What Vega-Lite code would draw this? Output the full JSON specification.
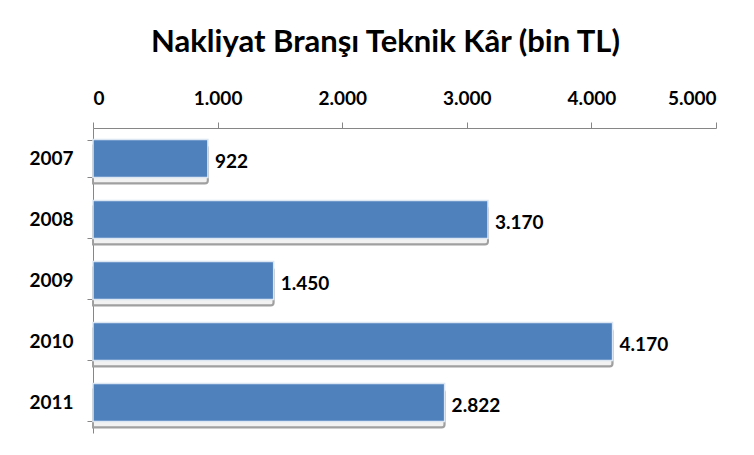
{
  "$schema": "https://vega.github.io/schema/vega-lite/v6.json",
  "autosize": {"type": "none"},
  "width": 623,
  "height": 305,
  "padding": {"left": 93, "top": 128, "right": 38, "bottom": 22},
  "background": "white",
  "config": {
    "locale": {"number": {"decimal": ",", "thousands": ".", "grouping": [3], "currency": ["", ""]}},
    "view": {"stroke": null},
    "font": "Lato"
  },
  "title": {
    "text": "Nakliyat Branşı Teknik Kâr (bin TL)",
    "font": "Lato",
    "fontSize": 31,
    "fontWeight": "bold",
    "color": "#000000",
    "anchor": "middle",
    "frame": "group",
    "dx": -19,
    "offset": 30
  },
  "data": {
    "values": [
      {"year": "2007", "value": 922},
      {"year": "2008", "value": 3170},
      {"year": "2009", "value": 1450},
      {"year": "2010", "value": 4170},
      {"year": "2011", "value": 2822}
    ]
  },
  "encoding": {
    "y": {
      "field": "year",
      "type": "nominal",
      "sort": null,
      "scale": {"paddingInner": 0.38, "paddingOuter": 0.19},
      "axis": {
        "title": null,
        "domainColor": "#868686",
        "tickColor": "#868686",
        "tickSize": 6,
        "tickBand": "extent",
        "labelPadding": 14,
        "labelFont": "Lato",
        "labelFontSize": 19,
        "labelFontWeight": "bold",
        "labelColor": "#000000"
      }
    }
  },
  "layer": [
    {
      "mark": {"type": "bar", "fill": "#f2f2f2", "stroke": "#a0a0a0", "strokeWidth": 2, "yOffset": 6, "x2Offset": 6, "cornerRadiusEnd": 3},
      "encoding": {
        "x": {
          "field": "value",
          "type": "quantitative",
          "scale": {"domain": [0, 5000], "nice": false},
          "axis": {
            "orient": "top",
            "title": null,
            "values": [0, 1000, 2000, 3000, 4000, 5000],
            "format": ",d",
            "grid": false,
            "domainColor": "#868686",
            "tickColor": "#868686",
            "tickSize": 6,
            "labelPadding": 14,
            "labelFont": "Lato",
            "labelFontSize": 19,
            "labelFontWeight": "bold",
            "labelColor": "#000000"
          }
        }
      }
    },
    {
      "mark": {"type": "bar", "fill": "#4f81bd", "stroke": "#dce6f2", "strokeWidth": 1.5},
      "encoding": {
        "x": {"field": "value", "type": "quantitative"}
      }
    },
    {
      "mark": {"type": "text", "align": "left", "baseline": "middle", "dx": 7, "dy": 3, "font": "Lato", "fontSize": 19, "fontWeight": "bold", "color": "#000000"},
      "encoding": {
        "x": {"field": "value", "type": "quantitative"},
        "text": {"field": "value", "type": "quantitative", "format": ",d"}
      }
    }
  ]
}
